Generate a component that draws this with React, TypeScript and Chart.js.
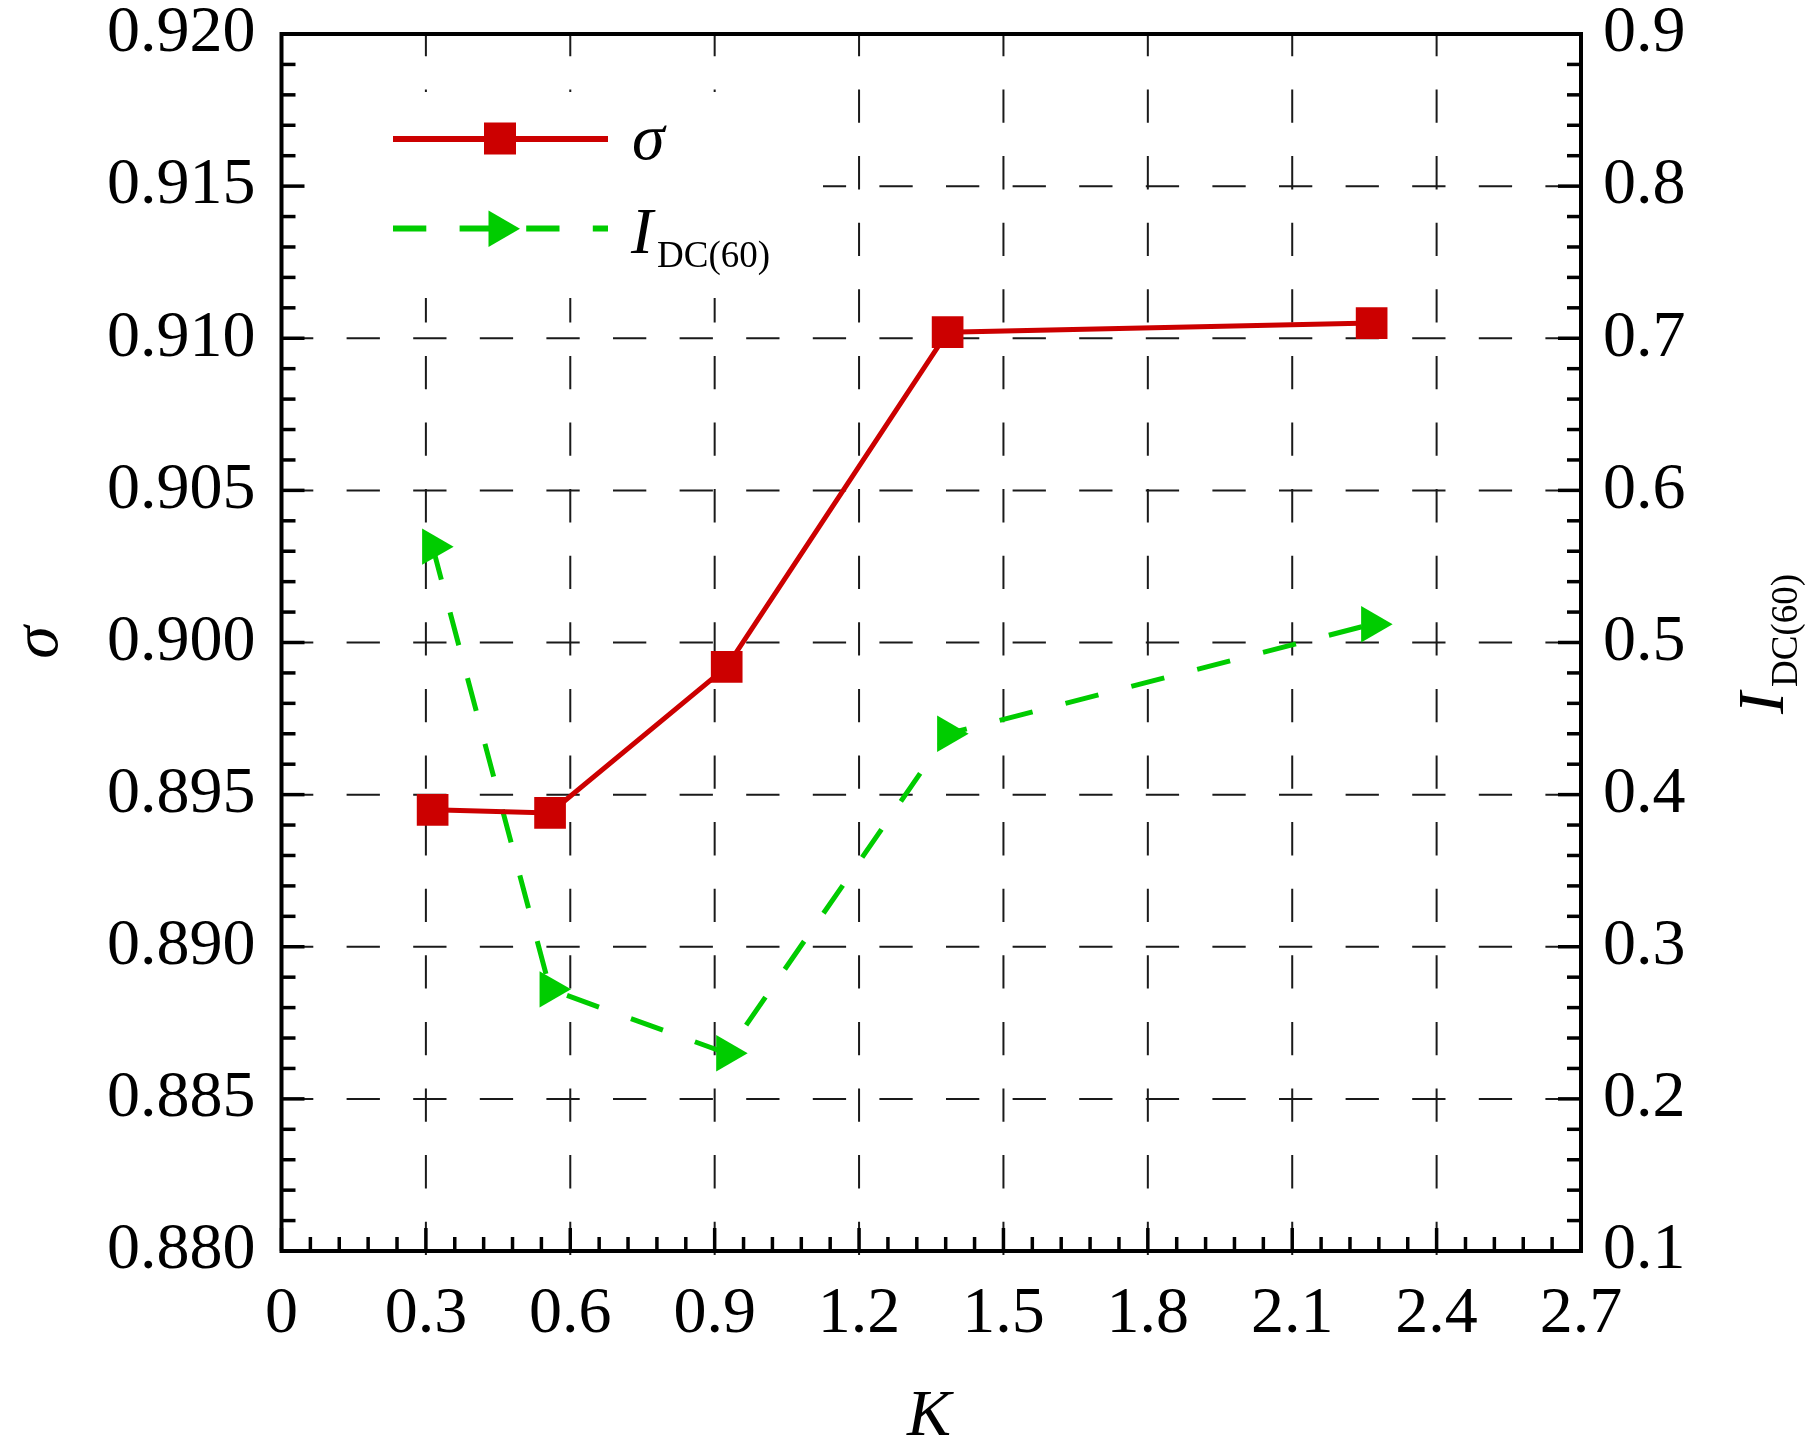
import { useEffect, useRef } from 'react';
import { Chart, registerables, type Plugin } from 'chart.js';

Chart.register(...registerables);

const FONT = "'Liberation Serif', 'Times New Roman', serif";
const RED = '#cc0000';
const GREEN = '#00cc00';

// values
const kValues = [0.314, 0.558, 0.925, 1.384, 2.265];
const sigmaValues = [0.8945, 0.8944, 0.8992, 0.9102, 0.9105];
const idcValues = [0.563, 0.272, 0.23, 0.44, 0.512];

const kTickLabels = ['0', '0.3', '0.6', '0.9', '1.2', '1.5', '1.8', '2.1', '2.4', '2.7'];
const sigmaTickLabels = ['0.880', '0.885', '0.890', '0.895', '0.900', '0.905', '0.910', '0.915', '0.920'];
const idcTickLabels = ['0.1', '0.2', '0.3', '0.4', '0.5', '0.6', '0.7', '0.8', '0.9'];

const MAJOR = 23;
const MINOR = 14;

// origin-style decorations: dashed grid, inward ticks, frame, legend with subscripts
const decor: Plugin<'line'> = {
  id: 'decor',
  beforeDatasetsDraw(chart) {
    const { ctx, chartArea: a, scales } = chart;
    const x = scales.x, y = scales.y;
    ctx.save();
    ctx.strokeStyle = '#1a1a1a';
    ctx.lineWidth = 2;
    ctx.setLineDash([33.3, 33.3]);
    x.ticks.forEach((t) => {
      if (t.value <= x.min + 1e-9 || t.value >= x.max - 1e-9) return;
      const px = x.getPixelForValue(t.value);
      ctx.beginPath();
      ctx.moveTo(px, a.bottom + 4);
      ctx.lineTo(px, a.top);
      ctx.stroke();
    });
    y.ticks.forEach((t) => {
      if (t.value <= y.min + 1e-9 || t.value >= y.max - 1e-9) return;
      const py = y.getPixelForValue(t.value);
      ctx.beginPath();
      ctx.moveTo(a.left - 1.5, py);
      ctx.lineTo(a.right, py);
      ctx.stroke();
    });
    ctx.setLineDash([]);
    // legend background hides the grid
    ctx.fillStyle = '#fff';
    ctx.fillRect(a.left + 2.5, 92, 823 - a.left - 2.5, 206);
    ctx.restore();
  },
  afterDatasetsDraw(chart) {
    const { ctx, chartArea: a, scales } = chart;
    const x = scales.x, y = scales.y, y1 = scales.y1;
    ctx.save();
    ctx.strokeStyle = '#000';
    ctx.lineWidth = 3.5;
    ctx.lineCap = 'butt';
    const n = (sigmaTickLabels.length - 1) * 5;
    for (let i = 0; i <= n; i++) {
      const len = i % 5 === 0 ? MAJOR : MINOR;
      const py = y.getPixelForValue(y.min + ((y.max - y.min) * i) / n);
      ctx.beginPath();
      ctx.moveTo(a.left, py);
      ctx.lineTo(a.left + len, py);
      ctx.stroke();
      const pr = y1.getPixelForValue(y1.min + ((y1.max - y1.min) * i) / n);
      ctx.beginPath();
      ctx.moveTo(a.right, pr);
      ctx.lineTo(a.right - len, pr);
      ctx.stroke();
    }
    const nx = (kTickLabels.length - 1) * 5;
    for (let i = 0; i <= nx; i++) {
      const len = i % 5 === 0 ? MAJOR : MINOR;
      const px = x.getPixelForValue(x.min + ((x.max - x.min) * i) / nx);
      ctx.beginPath();
      ctx.moveTo(px, a.bottom);
      ctx.lineTo(px, a.bottom - len);
      ctx.stroke();
    }
    ctx.lineWidth = 4;
    ctx.lineJoin = 'miter';
    ctx.strokeRect(a.left, a.top, a.right - a.left, a.bottom - a.top);

    // legend
    ctx.strokeStyle = RED;
    ctx.lineWidth = 6;
    ctx.beginPath();
    ctx.moveTo(393, 139);
    ctx.lineTo(608, 139);
    ctx.stroke();
    ctx.fillStyle = RED;
    ctx.fillRect(484, 122.5, 32, 32);
    ctx.strokeStyle = GREEN;
    ctx.setLineDash([33.3, 33.3]);
    ctx.beginPath();
    ctx.moveTo(393, 228.5);
    ctx.lineTo(608, 228.5);
    ctx.stroke();
    ctx.setLineDash([]);
    ctx.fillStyle = GREEN;
    ctx.beginPath();
    ctx.moveTo(520, 228.7);
    ctx.lineTo(488.5, 210.5);
    ctx.lineTo(488.5, 246.9);
    ctx.closePath();
    ctx.fill();

    ctx.fillStyle = '#000';
    ctx.textBaseline = 'alphabetic';
    ctx.textAlign = 'left';
    ctx.font = `italic 66px ${FONT}`;
    ctx.fillText('σ', 632, 159);
    ctx.fillText('I', 631, 253);
    ctx.font = `37px ${FONT}`;
    ctx.fillText('DC(60)', 657, 267);

    // axis titles
    ctx.font = `italic 66px ${FONT}`;
    ctx.textAlign = 'center';
    ctx.fillText('K', 929, 1435);
    ctx.save();
    ctx.translate(57, (a.top + a.bottom) / 2);
    ctx.rotate(-Math.PI / 2);
    ctx.fillText('σ', 0, 0);
    ctx.restore();
    ctx.save();
    ctx.translate(1783, 714);
    ctx.rotate(-Math.PI / 2);
    ctx.textAlign = 'left';
    ctx.fillText('I', 0, 0);
    ctx.font = `37px ${FONT}`;
    ctx.fillText('DC(60)', 27, 14);
    ctx.restore();
    ctx.restore();
  },
};

const tickFont = { family: FONT, size: 66 };

export default function App() {
  const canvasRef = useRef<HTMLCanvasElement>(null);

  useEffect(() => {
    if (!canvasRef.current) return;
    const chart = new Chart(canvasRef.current, {
      type: 'line',
      data: {
        datasets: [
          {
            label: 'σ',
            data: kValues.map((k, i) => ({ x: k, y: sigmaValues[i] })),
            yAxisID: 'y',
            borderColor: RED,
            backgroundColor: RED,
            borderWidth: 5,
            pointStyle: 'rect',
            pointRadius: 22.4,
            pointBorderWidth: 0,
            pointBackgroundColor: RED,
            tension: 0,
          },
          {
            label: 'IDC(60)',
            data: kValues.map((k, i) => ({ x: k, y: idcValues[i] })),
            yAxisID: 'y1',
            borderColor: GREEN,
            backgroundColor: GREEN,
            borderWidth: 5,
            borderDash: [34, 34],
            pointStyle: 'triangle',
            pointRotation: 90,
            pointRadius: 21,
            pointBorderWidth: 0,
            pointBackgroundColor: GREEN,
            tension: 0,
          },
        ],
      },
      options: {
        responsive: true,
        maintainAspectRatio: false,
        animation: false,
        layout: { padding: { top: 34, left: 0, right: 0, bottom: 0 } },
        plugins: { legend: { display: false }, tooltip: { enabled: false } },
        scales: {
          x: {
            type: 'linear',
            min: 0,
            max: 2.7,
            grid: { display: false, drawTicks: false },
            border: { display: false },
            ticks: {
              stepSize: 0.3,
              padding: 24,
              color: '#000',
              font: tickFont,
              maxRotation: 0,
              autoSkip: false,
              callback: (v) => kTickLabels[Math.round(Number(v) / 0.3)],
            },
            afterFit: (s) => {
              s.height = 203;
              s.paddingLeft = 0;
              s.paddingRight = 0;
            },
          },
          y: {
            type: 'linear',
            position: 'left',
            min: 0.88,
            max: 0.92,
            grid: { display: false, drawTicks: false },
            border: { display: false },
            ticks: {
              stepSize: 0.005,
              padding: 26,
              color: '#000',
              font: tickFont,
              autoSkip: false,
              callback: (v) => sigmaTickLabels[Math.round((Number(v) - 0.88) / 0.005)],
            },
            afterFit: (s) => {
              s.width = 281.5;
              s.paddingTop = 0;
              s.paddingBottom = 0;
            },
          },
          y1: {
            type: 'linear',
            position: 'right',
            min: 0.1,
            max: 0.9,
            grid: { display: false, drawTicks: false },
            border: { display: false },
            ticks: {
              stepSize: 0.1,
              padding: 22,
              color: '#000',
              font: tickFont,
              autoSkip: false,
              callback: (v) => idcTickLabels[Math.round((Number(v) - 0.1) / 0.1)],
            },
            afterFit: (s) => {
              s.width = 238;
              s.paddingTop = 0;
              s.paddingBottom = 0;
            },
          },
        },
      },
      plugins: [decor],
    });
    return () => chart.destroy();
  }, []);

  return (
    <div style={{ position: 'fixed', left: 0, top: 0, width: 1819, height: 1454, background: '#fff' }}>
      <canvas ref={canvasRef}></canvas>
    </div>
  );
}
